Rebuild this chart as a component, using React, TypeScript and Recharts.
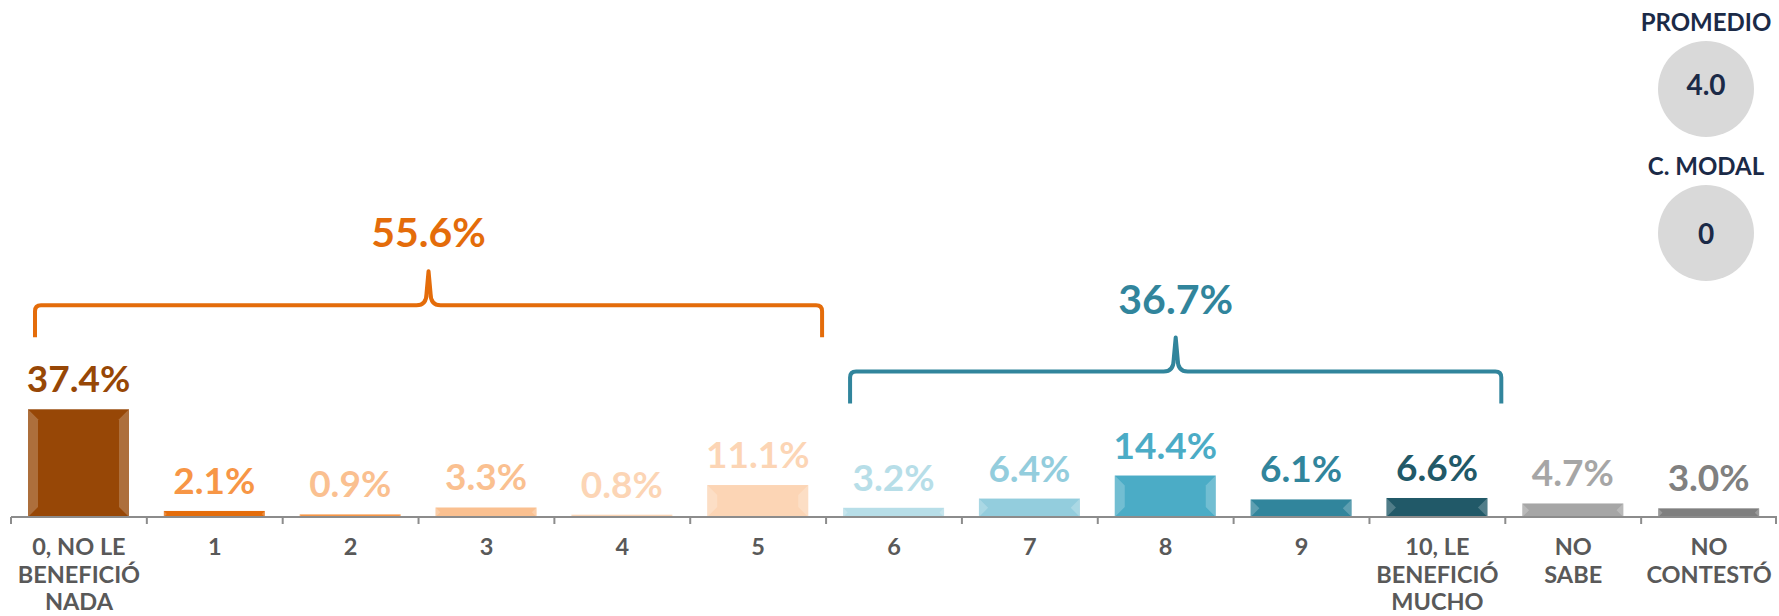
import { BarChart, Bar, XAxis, YAxis, ReferenceArea } from "recharts";

// categorias del eje x (clave) y etiquetas en varias lineas
const CATEGORIES = [
  "0, NO LE BENEFICIÓ NADA",
  "1",
  "2",
  "3",
  "4",
  "5",
  "6",
  "7",
  "8",
  "9",
  "10, LE BENEFICIÓ MUCHO",
  "NO SABE",
  "NO CONTESTÓ",
];
const TICK_LINES = [
  ["0, NO LE", "BENEFICIÓ", "NADA"],
  ["1"],
  ["2"],
  ["3"],
  ["4"],
  ["5"],
  ["6"],
  ["7"],
  ["8"],
  ["9"],
  ["10, LE", "BENEFICIÓ", "MUCHO"],
  ["NO", "SABE"],
  ["NO", "CONTESTÓ"],
];
const VALUES = [37.4, 2.1, 0.9, 3.3, 0.8, 11.1, 3.2, 6.4, 14.4, 6.1, 6.6, 4.7, 3.0];

// llaves (agrupaciones)
const GROUP_FROM = [0, 6];
const GROUP_TO = [5, 10];
const GROUP_TOTALS = [55.6, 36.7];

const PROMEDIO = "4.0";
const MODAL = "0";

// estilos
const BAR_COLORS = [
  "#974706", "#E46C0A", "#F79646", "#FAC090", "#FBD5B5", "#FCD5B5",
  "#B7DEE8", "#93CDDD", "#4BACC6", "#31859C", "#215968", "#A6A6A6", "#7F7F7F",
];
const LABEL_COLORS = [
  "#974706", "#F79646", "#FAC090", "#FAC090", "#FCD5B5", "#FCD5B5",
  "#B7DEE8", "#93CDDD", "#4BACC6", "#31859C", "#215968", "#A6A6A6", "#808080",
];
const GROUP_COLORS = ["#E46C0A", "#31859C"];

const W = 1779;
const H = 616;
const MARGIN = { top: 229, right: 2, bottom: 0, left: 11 };
const STEP = (W - MARGIN.left - MARGIN.right) / CATEGORIES.length;
const FONT = "Lato, 'Open Sans', sans-serif";
const NAVY = "#1B2A47";

const data = CATEGORIES.map((name, idx) => ({ name, idx, value: VALUES[idx] }));

function BevelBar(props: any) {
  const { x, y, width, height, payload } = props;
  if (!height || height <= 0) return null;
  const fill = BAR_COLORS[payload.idx];
  const b = Math.min(10, height / 2);
  const r = x + width;
  const bot = y + height;
  return (
    <g>
      <rect x={x} y={y} width={width} height={height} fill={fill} />
      <polygon
        points={`${x},${y} ${x + b},${y + b} ${x + b},${bot - b} ${x},${bot}`}
        fill="#fff"
        opacity={0.22}
      />
      <polygon
        points={`${r},${y} ${r - b},${y + b} ${r - b},${bot - b} ${r},${bot}`}
        fill="#fff"
        opacity={0.22}
      />
    </g>
  );
}

function BarLabel(props: any) {
  const { x, y, width, value, index } = props;
  return (
    <text
      x={x + width / 2}
      y={y - 17}
      textAnchor="middle"
      fontFamily={FONT}
      fontWeight={700}
      fontSize={37}
      fill={LABEL_COLORS[index] ?? "#808080"}
    >
      {Number(value).toFixed(1)}%
    </text>
  );
}

function CategoryTick(props: any) {
  const { x, y, payload } = props;
  const i = CATEGORIES.indexOf(payload.value);
  const lines = TICK_LINES[i] ?? [String(payload.value)];
  const left = x - STEP / 2;
  return (
    <g>
      <line x1={left} x2={left} y1={y} y2={y + 7} stroke="#8C8C8C" strokeWidth={2} />
      {i === CATEGORIES.length - 1 && (
        <line x1={x + STEP / 2 - 1} x2={x + STEP / 2 - 1} y1={y} y2={y + 7} stroke="#8C8C8C" strokeWidth={2} />
      )}
      <text textAnchor="middle" fontFamily={FONT} fontWeight={700} fontSize={23.5} fill="#595959">
        {lines.map((l, k) => (
          <tspan key={k} x={x} y={y + 38 + k * 27.5}>
            {l}
          </tspan>
        ))}
      </text>
    </g>
  );
}

function makeBracket(g: number) {
  return (props: any) => {
    const { x, y, width } = props;
    const left = x + 24;
    const right = x + width - 4;
    const cx = (left + right) / 2;
    const ly = y - 104;
    const endY = ly + 32;
    const peakY = ly - 34;
    const c = GROUP_COLORS[g];
    const d = [
      `M${left},${endY}`,
      `L${left},${ly + 6}`,
      `Q${left},${ly} ${left + 6},${ly}`,
      `L${cx - 12},${ly}`,
      `Q${cx - 2},${ly} ${cx - 2},${ly - 12}`,
      `L${cx},${peakY}`,
      `L${cx + 2},${ly - 12}`,
      `Q${cx + 2},${ly} ${cx + 12},${ly}`,
      `L${right - 6},${ly}`,
      `Q${right},${ly} ${right},${ly + 6}`,
      `L${right},${endY}`,
    ].join(" ");
    return (
      <g>
        <path d={d} fill="none" stroke={c} strokeWidth={4} strokeLinejoin="round" />
        <text
          x={cx}
          y={peakY - 24}
          textAnchor="middle"
          fontFamily={FONT}
          fontWeight={700}
          fontSize={41}
          fill={c}
        >
          {GROUP_TOTALS[g].toFixed(1)}%
        </text>
      </g>
    );
  };
}

function StatCircle({ title, value, cy, dy }: { title: string; value: string; cy: number; dy: number }) {
  return (
    <g>
      <text x={1706} y={cy - 58} textAnchor="middle" fontFamily={FONT} fontWeight={700} fontSize={24} fill={NAVY}>
        {title}
      </text>
      <circle cx={1706} cy={cy} r={48} fill="#D9D9D9" />
      <text x={1706} y={cy + dy} textAnchor="middle" fontFamily={FONT} fontWeight={700} fontSize={28} fill={NAVY}>
        {value}
      </text>
    </g>
  );
}

export default function App() {
  return (
    <div style={{ position: "absolute", left: 0, top: 0, width: W, height: H, background: "#fff" }}>
      <BarChart width={W} height={H} data={data} margin={MARGIN}>
        <XAxis
          dataKey="name"
          interval={0}
          height={99}
          tickLine={false}
          tickSize={0}
          tickMargin={0}
          axisLine={{ stroke: "#8C8C8C", strokeWidth: 2 }}
          tick={<CategoryTick />}
        />
        <YAxis hide domain={[0, 100]} />
        {GROUP_TOTALS.map((_, g) => {
          const members = VALUES.slice(GROUP_FROM[g], GROUP_TO[g] + 1);
          return (
            <ReferenceArea
              key={g}
              x1={CATEGORIES[GROUP_FROM[g]]}
              x2={CATEGORIES[GROUP_TO[g]]}
              y1={0}
              y2={Math.max(...members)}
              shape={makeBracket(g)}
            />
          );
        })}
        <Bar
          dataKey="value"
          barSize={101}
          isAnimationActive={false}
          shape={<BevelBar />}
          label={<BarLabel />}
        />
      </BarChart>
      <svg width={W} height={H} style={{ position: "absolute", left: 0, top: 0, pointerEvents: "none" }}>
        <StatCircle title="PROMEDIO" value={PROMEDIO} cy={89} dy={6} />
        <StatCircle title="C. MODAL" value={MODAL} cy={233} dy={11} />
      </svg>
    </div>
  );
}
